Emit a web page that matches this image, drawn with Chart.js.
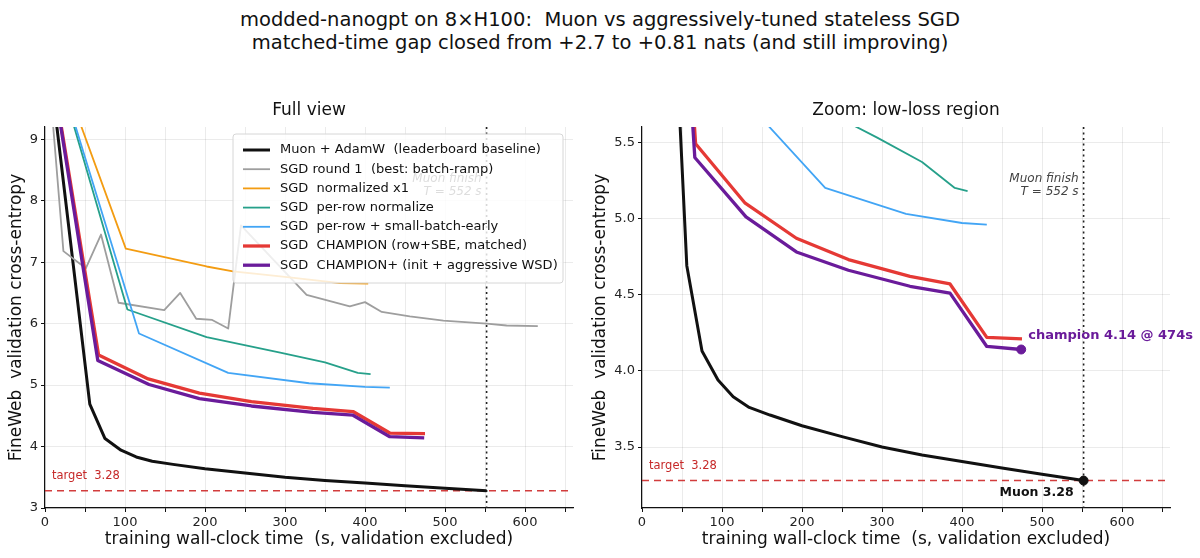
<!DOCTYPE html>
<html>
<head>
<meta charset="utf-8">
<script src="https://cdn.jsdelivr.net/npm/chart.js@4.4.1/dist/chart.umd.min.js"></script>
<style>
  body { margin: 0; width: 1200px; height: 558px; background: #fff; position: relative; overflow: hidden; font-family: "DejaVu Sans", sans-serif; }
  .sup { position: absolute; left: 0; width: 1200px; text-align: center; font-size: 19.5px; line-height: 23px; color: #111; white-space: pre; }
  .panel { position: absolute; top: 90px; height: 468px; }
</style>
</head>
<body>
<div class="sup" style="top:8px">modded-nanogpt on 8×H100:  Muon vs aggressively-tuned stateless SGD</div>
<div class="sup" style="top:31px">matched-time gap closed from +2.7 to +0.81 nats (and still improving)</div>
<div class="panel" style="left:0; width:590px;"><canvas id="full"></canvas></div>
<div class="panel" style="left:584px; width:616px;"><canvas id="zoom"></canvas></div>
<script>
// wall-clock seconds / validation loss
const muonT = [0, 56, 75, 95, 114, 134, 160, 200, 250, 300, 350, 400, 450, 500, 552];
const muonLoss = [10.83, 4.69, 4.13, 3.94, 3.83, 3.76, 3.71, 3.64, 3.568, 3.50, 3.448, 3.405, 3.363, 3.322, 3.28];

const round1T = [0, 23, 51, 70, 92, 149, 169, 189, 209, 229, 245, 327, 381, 400, 421, 456, 498, 552, 577, 616];
const round1Loss = [10.83, 7.18, 6.9, 7.45, 6.34, 6.22, 6.5, 6.08, 6.06, 5.92, 7.6, 6.47, 6.28, 6.35, 6.19, 6.12, 6.05, 6.0, 5.97, 5.96];

const normT = [0, 101, 202, 235, 300, 369, 404];
const normLoss = [10.83, 7.22, 6.93, 6.85, 6.76, 6.66, 6.65];

const rowT = [0, 103, 202, 294, 350, 391, 407];
const rowLoss = [10.83, 6.23, 5.78, 5.53, 5.37, 5.2, 5.18];

const sbeT = [0, 117.5, 229, 330, 400, 431];
const sbeLoss = [10.83, 5.84, 5.2, 5.03, 4.97, 4.96];

const champT = [0, 67, 129, 193, 258, 335, 385, 431, 475];
const champLoss = [10.83, 5.49, 5.1, 4.87, 4.73, 4.62, 4.57, 4.22, 4.21];

const champPlusT = [0, 66, 130, 193, 258, 335, 385, 431, 474];
const champPlusLoss = [10.83, 5.4, 5.01, 4.78, 4.66, 4.555, 4.51, 4.16, 4.14];

const targetLoss = 3.28;
const muonFinish = 552;

// axis ticks
const xTicks = [0, 50, 100, 150, 200, 250, 300, 350, 400, 450, 500, 550, 600, 650];
const fullYTicks = [3, 4, 5, 6, 7, 8, 9];
const zoomYTicks = [3.5, 4.0, 4.5, 5.0, 5.5];

const seriesNames = [
  "Muon + AdamW  (leaderboard baseline)",
  "SGD round 1  (best: batch-ramp)",
  "SGD  normalized x1",
  "SGD  per-row normalize",
  "SGD  per-row + small-batch-early",
  "SGD  CHAMPION (row+SBE, matched)",
  "SGD  CHAMPION+ (init + aggressive WSD)",
];
const seriesColors = ["#111111", "#9e9e9e", "#f39c12", "#26a08a", "#42a5f5", "#e53935", "#6a1b9a"];
const seriesWidths = [3, 1.8, 1.8, 1.8, 1.8, 3.3, 3.3];
const seriesT = [muonT, round1T, normT, rowT, sbeT, champT, champPlusT];
const seriesLoss = [muonLoss, round1Loss, normLoss, rowLoss, sbeLoss, champLoss, champPlusLoss];

const FONT = "DejaVu Sans";

function points(t, loss) {
  return t.map((x, i) => ({ x: x, y: loss[i] }));
}

function lineDatasets() {
  return seriesNames.map((name, i) => ({
    label: name,
    data: points(seriesT[i], seriesLoss[i]),
    borderColor: seriesColors[i],
    borderWidth: seriesWidths[i],
    pointRadius: 0,
    tension: 0,
    borderJoinStyle: "round",
    order: 20 - i,
  }));
}

function dotDataset(x, y, color) {
  return {
    label: "",
    data: [{ x: x, y: y }],
    showLine: false,
    pointRadius: 4.5,
    pointBackgroundColor: color,
    pointBorderColor: color,
    order: 0,
  };
}

const overlay = {
  id: "overlay",
  beforeDatasetsDraw(chart) {
    const { ctx, chartArea: a, scales: { x, y } } = chart;
    ctx.save();
    ctx.beginPath();
    ctx.rect(a.left, a.top, a.right - a.left, a.bottom - a.top);
    ctx.clip();
    const ty = y.getPixelForValue(targetLoss);
    ctx.strokeStyle = "rgba(205,40,40,0.9)";
    ctx.lineWidth = 1.6;
    ctx.setLineDash([7, 5]);
    ctx.beginPath();
    ctx.moveTo(a.left, ty);
    ctx.lineTo(a.right, ty);
    ctx.stroke();
    const fx = x.getPixelForValue(muonFinish);
    ctx.strokeStyle = "#222";
    ctx.setLineDash([2, 3.5]);
    ctx.beginPath();
    ctx.moveTo(fx, a.top);
    ctx.lineTo(fx, a.bottom);
    ctx.stroke();
    ctx.restore();
  },
  afterDatasetsDraw(chart, args, opts) {
    const { ctx, chartArea: a, scales: { x, y } } = chart;
    const h = a.bottom - a.top;
    ctx.save();
    ctx.textBaseline = "middle";

    ctx.fillStyle = "#c62828";
    ctx.font = `11.5px "${FONT}"`;
    ctx.textAlign = "left";
    ctx.fillText("target  3.28", a.left + 7, y.getPixelForValue(targetLoss) - 15);

    ctx.fillStyle = "#444";
    ctx.font = `italic 12px "${FONT}"`;
    ctx.textAlign = "right";
    const fx = x.getPixelForValue(muonFinish) - 5;
    ctx.fillText("Muon finish", fx, a.top + 0.1365 * h);
    ctx.fillText("T = 552 s", fx, a.top + 0.17 * h);

    if (opts.labels) {
      ctx.font = `bold 13px "${FONT}"`;
      ctx.textAlign = "left";
      ctx.fillStyle = "#6a1b9a";
      ctx.fillText("champion 4.14 @ 474s", x.getPixelForValue(474) + 7, y.getPixelForValue(4.14) - 14);
      ctx.font = `bold 12.5px "${FONT}"`;
      ctx.textAlign = "right";
      ctx.fillStyle = "#111";
      ctx.fillText("Muon 3.28", x.getPixelForValue(muonFinish) - 10, y.getPixelForValue(targetLoss) + 12);
    }
    ctx.restore();
  },
  afterDraw(chart, args, opts) {
    const { ctx, chartArea: a } = chart;
    ctx.save();
    ctx.fillStyle = "#111";
    ctx.font = `17px "${FONT}"`;
    ctx.textAlign = "center";
    ctx.textBaseline = "middle";
    ctx.fillText(opts.title, (a.left + a.right) / 2, a.top - 16);

    if (opts.legend) {
      const lx = a.left + 188, ly = a.top + 7, lw = 330, lh = 149;
      ctx.beginPath();
      ctx.roundRect(lx, ly, lw, lh, 3);
      ctx.fillStyle = "rgba(255,255,255,0.82)";
      ctx.fill();
      ctx.strokeStyle = "#d6d6d6";
      ctx.lineWidth = 1;
      ctx.stroke();
      ctx.font = `13px "${FONT}"`;
      ctx.textAlign = "left";
      seriesNames.forEach((name, i) => {
        const ry = ly + 16 + i * 19.2;
        ctx.strokeStyle = seriesColors[i];
        ctx.lineWidth = seriesWidths[i];
        ctx.beginPath();
        ctx.moveTo(lx + 10, ry);
        ctx.lineTo(lx + 37, ry);
        ctx.stroke();
        ctx.fillStyle = "#111";
        ctx.fillText(name, lx + 47, ry);
      });
    }
    ctx.restore();
  },
};

function createLossChart(id, opts) {
  const datasets = lineDatasets().concat(opts.dots || []);
  const config = {
    type: "line",
    data: { datasets: datasets },
    plugins: [overlay],
    options: {
      responsive: true,
      maintainAspectRatio: false,
      animation: false,
      events: [],
      layout: { padding: { top: 37, right: opts.padRight, left: 0, bottom: 0 } },
      plugins: {
        legend: false,
        tooltip: { enabled: false },
        overlay: { title: opts.title, legend: opts.legend, labels: opts.labels },
      },
      scales: {
        x: {
          type: "linear",
          min: 0,
          max: 660,
          afterFit: (s) => { s.height = 50; },
          afterBuildTicks: (s) => { s.ticks = xTicks.map((v) => ({ value: v })); },
          ticks: {
            autoSkip: false,
            maxRotation: 0,
            padding: 3,
            color: "#222",
            font: { family: FONT, size: 13 },
            callback: (v) => (v % 100 === 0 ? v : ""),
          },
          grid: { color: "rgba(0,0,0,0.08)", tickColor: "#111", tickLength: 4 },
          border: { display: true, color: "#111", width: 1.2 },
          title: {
            display: true,
            text: "training wall-clock time  (s, validation excluded)",
            color: "#111",
            font: { family: FONT, size: 17 },
            padding: { top: 0, bottom: 8 },
          },
        },
        y: {
          min: opts.yMin,
          max: opts.yMax,
          afterFit: (s) => { s.width = opts.yWidth; },
          afterBuildTicks: (s) => { s.ticks = opts.yTicks.map((v) => ({ value: v })); },
          ticks: {
            autoSkip: false,
            padding: 3,
            color: "#222",
            font: { family: FONT, size: 13 },
            callback: opts.yFormat,
          },
          grid: { color: "rgba(0,0,0,0.08)", tickColor: "#111", tickLength: 4 },
          border: { display: true, color: "#111", width: 1.2 },
          title: {
            display: true,
            text: "FineWeb  validation cross-entropy",
            color: "#111",
            font: { family: FONT, size: 17 },
            padding: { top: 6, bottom: 0 },
          },
        },
      },
    },
  };
  return new Chart(document.getElementById(id), config);
}

createLossChart("full", {
  title: "Full view",
  legend: true,
  yMin: 3,
  yMax: 9.2,
  yTicks: fullYTicks,
  yWidth: 45,
  padRight: 17,
  yFormat: (v) => v,
});

createLossChart("zoom", {
  title: "Zoom: low-loss region",
  labels: true,
  yMin: 3.1,
  yMax: 5.6,
  yTicks: zoomYTicks,
  yWidth: 58,
  padRight: 30,
  yFormat: (v) => v.toFixed(1),
  dots: [dotDataset(474, 4.14, "#6a1b9a"), dotDataset(muonFinish, targetLoss, "#111")],
});
</script>
</body>
</html>
